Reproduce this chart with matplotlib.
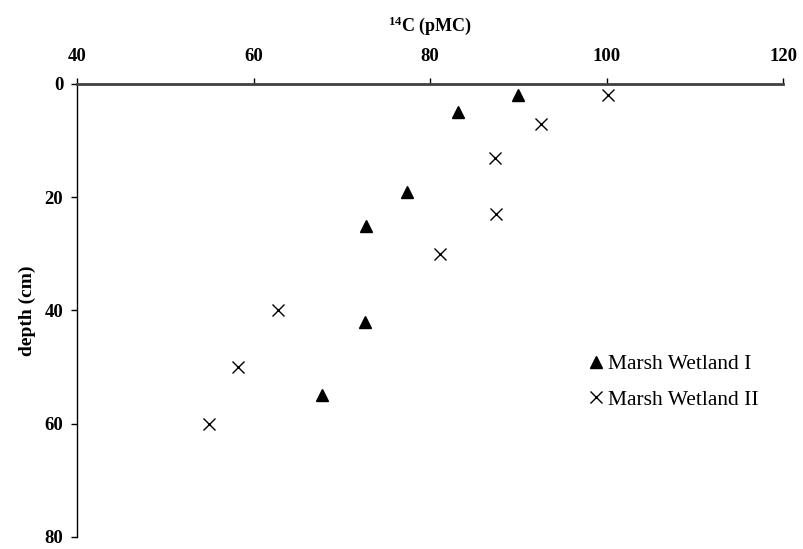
import matplotlib.pyplot as plt

# 14C activity vs depth, two marsh wetland cores
wet1_c14 = [90.0, 83.1, 77.4, 72.7, 72.6, 67.7]
wet1_depth = [2, 5, 19, 25, 42, 55]

wet2_c14 = [100.1, 92.6, 87.3, 87.4, 81.1, 62.8, 58.2, 55.0]
wet2_depth = [2, 7, 13, 23, 30, 40, 50, 60]

x_ticks = [40, 60, 80, 100, 120]
y_ticks = [0, 20, 40, 60, 80]

plt.rcParams["font.family"] = ["Liberation Serif", "DejaVu Serif"]
plt.rcParams["mathtext.fontset"] = "custom"
plt.rcParams["mathtext.rm"] = "Liberation Serif:bold"
plt.rcParams["mathtext.it"] = "Liberation Serif:bold"
plt.rcParams["mathtext.bf"] = "Liberation Serif:bold"

fig = plt.figure(figsize=(8.04, 5.49), dpi=100)
ax = fig.add_axes([0.0958, 0.022, 0.8785, 0.825])

ax.plot(wet1_c14, wet1_depth, linestyle="none", marker="^", ms=8.5,
        color="black", label="Marsh Wetland I")
ax.plot(wet2_c14, wet2_depth, linestyle="none", marker="x", ms=9,
        mew=1.0, color="black", label="Marsh Wetland II")

ax.set_xlim(40, 120)
ax.set_ylim(80, 0)
ax.set_xticks(x_ticks)
ax.set_yticks(y_ticks)

# x axis sits on top like the Excel original
ax.xaxis.tick_top()
ax.xaxis.set_label_position("top")
ax.spines["bottom"].set_visible(False)
ax.spines["right"].set_visible(False)
ax.spines["top"].set_color("#404040")
ax.spines["top"].set_linewidth(2)
ax.spines["left"].set_linewidth(1)

ax.tick_params(axis="x", direction="out", length=4, width=1, pad=10,
               labelsize=13.5)
ax.tick_params(axis="y", direction="out", length=4, width=1, pad=6,
               labelsize=13.5)
for lab in ax.get_xticklabels() + ax.get_yticklabels():
    lab.set_fontweight("bold")

ax.set_xlabel("$^{14}$C (pMC)", fontsize=13, fontweight="bold", labelpad=12)
ax.set_ylabel("depth (cm)", fontsize=14, fontweight="bold", labelpad=6)

ax.legend(loc="center left", bbox_to_anchor=(0.714, 0.342), frameon=False,
          fontsize=15.5, handlelength=0.6, handletextpad=0.26,
          labelspacing=0.73, borderaxespad=0)

fig.savefig("out.png", dpi=100)
